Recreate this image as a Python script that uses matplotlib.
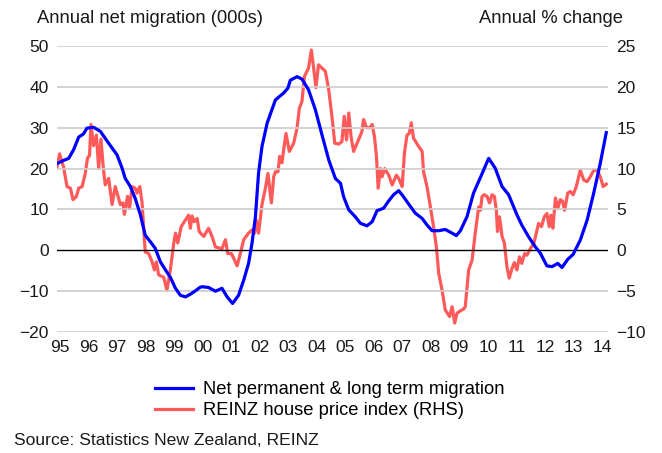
import matplotlib
matplotlib.use("Agg")
import matplotlib.pyplot as plt
import numpy as np

plt.rcParams['font.family'] = ['Liberation Sans', 'DejaVu Sans']

# net permanent & long term migration, annual, 000s (LHS)
mig_t = [1994.92, 1995.13, 1995.31, 1995.48, 1995.66, 1995.83, 1995.95, 1996.18, 1996.42, 1996.59,
         1996.77, 1997.00, 1997.18, 1997.29, 1997.47, 1997.64, 1997.82, 1997.99, 1998.17, 1998.34,
         1998.52, 1998.70, 1998.87, 1999.05, 1999.22, 1999.40, 1999.58, 1999.75, 1999.90, 1999.98,
         2000.21, 2000.45, 2000.68, 2000.86, 2001.05, 2001.26, 2001.44, 2001.61, 2001.73, 2001.85,
         2001.96, 2002.08, 2002.26, 2002.55, 2002.84, 2002.99, 2003.07, 2003.31, 2003.48, 2003.71,
         2003.95, 2004.18, 2004.42, 2004.65, 2004.83, 2004.94, 2005.12, 2005.35, 2005.53, 2005.76,
         2005.94, 2006.11, 2006.34, 2006.52, 2006.69, 2006.87, 2007.04, 2007.22, 2007.45, 2007.69,
         2007.86, 2008.04, 2008.27, 2008.50, 2008.74, 2008.89, 2009.03, 2009.26, 2009.49, 2009.73,
         2010.02, 2010.25, 2010.49, 2010.72, 2011.01, 2011.18, 2011.42, 2011.65, 2011.83, 2012.06,
         2012.24, 2012.44, 2012.59, 2012.79, 2012.98, 2013.23, 2013.47, 2013.70, 2013.93, 2014.14]
mig_v = [21.3, 22.0, 22.5, 24.6, 27.7, 28.5, 29.9, 30.1, 29.1, 27.4,
         25.6, 23.4, 20.1, 17.6, 15.6, 12.7, 8.7, 3.7, 2.1, 0.5,
         -2.8, -4.8, -6.6, -9.3, -11.0, -11.4, -10.7, -9.9, -9.1, -8.9,
         -9.1, -10.0, -9.3, -11.4, -13.0, -11.0, -7.3, -3.2, 1.7, 8.2,
         18.9, 25.4, 31.1, 36.8, 38.5, 39.7, 41.6, 42.5, 41.9, 39.3,
         34.4, 28.3, 22.1, 17.6, 16.4, 13.1, 9.9, 8.2, 6.6, 6.0,
         7.0, 9.7, 10.3, 12.1, 13.6, 14.6, 13.1, 11.3, 9.1, 7.8,
         6.2, 4.8, 4.8, 5.1, 4.2, 3.6, 4.8, 8.2, 14.0, 17.8,
         22.5, 20.1, 15.6, 13.6, 8.7, 6.2, 3.3, 0.9, -0.7, -3.8,
         -4.0, -3.2, -4.2, -2.2, -1.0, 2.5, 7.4, 14.0, 21.3, 28.8]

# REINZ house price index, annual % change (RHS)
hpi_t = [1994.90, 1994.99, 1995.13, 1995.25, 1995.37, 1995.46, 1995.58, 1995.66, 1995.78, 1995.89,
         1995.97, 1996.04, 1996.09, 1996.18, 1996.28, 1996.36, 1996.44, 1996.53, 1996.59, 1996.71,
         1996.83, 1996.94, 1997.12, 1997.21, 1997.26, 1997.37, 1997.44, 1997.53, 1997.64, 1997.70,
         1997.80, 1997.88, 1997.99, 1998.11, 1998.23, 1998.31, 1998.38, 1998.46, 1998.64, 1998.75,
         1998.87, 1998.99, 1999.05, 1999.13, 1999.25, 1999.40, 1999.51, 1999.57, 1999.63, 1999.71,
         1999.81, 1999.88, 2000.04, 2000.21, 2000.33, 2000.45, 2000.68, 2000.80, 2000.88, 2001.01,
         2001.12, 2001.21, 2001.32, 2001.44, 2001.61, 2001.73, 2001.82, 2001.88, 2001.96, 2002.08,
         2002.20, 2002.29, 2002.41, 2002.49, 2002.55, 2002.64, 2002.70, 2002.78, 2002.84, 2002.92,
         2003.04, 2003.19, 2003.31, 2003.39, 2003.48, 2003.57, 2003.71, 2003.81, 2003.89, 2003.97,
         2004.06, 2004.18, 2004.30, 2004.42, 2004.53, 2004.63, 2004.77, 2004.88, 2004.96, 2005.04,
         2005.12, 2005.20, 2005.29, 2005.41, 2005.53, 2005.58, 2005.64, 2005.74, 2005.85, 2005.94,
         2006.02, 2006.09, 2006.15, 2006.23, 2006.29, 2006.38, 2006.52, 2006.64, 2006.79, 2006.90,
         2006.99, 2007.07, 2007.16, 2007.24, 2007.31, 2007.39, 2007.57, 2007.69, 2007.74, 2007.86,
         2007.98, 2008.09, 2008.19, 2008.27, 2008.39, 2008.50, 2008.65, 2008.74, 2008.83, 2008.91,
         2009.03, 2009.14, 2009.20, 2009.32, 2009.44, 2009.55, 2009.67, 2009.73, 2009.79, 2009.87,
         2009.96, 2010.05, 2010.14, 2010.22, 2010.29, 2010.33, 2010.40, 2010.49, 2010.57, 2010.66,
         2010.74, 2010.84, 2010.92, 2011.01, 2011.10, 2011.18, 2011.28, 2011.36, 2011.48, 2011.60,
         2011.69, 2011.77, 2011.87, 2011.97, 2012.06, 2012.14, 2012.20, 2012.27, 2012.36, 2012.44,
         2012.53, 2012.61, 2012.68, 2012.79, 2012.88, 2012.98, 2013.09, 2013.23, 2013.35, 2013.47,
         2013.58, 2013.70, 2013.82, 2013.93, 2014.03, 2014.14]
hpi_v = [10.2, 11.8, 10.2, 7.8, 7.6, 6.2, 6.6, 7.6, 7.8, 9.4,
         11.3, 11.6, 15.4, 12.8, 14.1, 10.0, 13.6, 9.8, 8.0, 8.8,
         5.6, 7.8, 5.6, 5.8, 4.4, 6.6, 5.1, 7.8, 7.6, 7.0,
         7.8, 5.8, -0.2, -0.4, -1.4, -2.4, -1.4, -3.0, -3.3, -4.9,
         -2.4, 0.9, 2.1, 0.9, 2.9, 3.7, 4.3, 2.7, 4.2, 3.5,
         3.9, 2.3, 1.7, 2.7, 1.7, 0.4, 0.2, 1.3, -0.4, -0.4,
         -1.2, -1.9, -0.4, 1.3, 2.1, 2.5, 2.1, 3.7, 2.1, 5.6,
         7.6, 9.4, 5.8, 9.0, 9.6, 9.6, 11.5, 10.7, 12.3, 14.3,
         12.1, 13.1, 15.0, 17.4, 18.2, 21.3, 22.3, 24.5, 22.3, 19.9,
         22.7, 22.3, 21.9, 19.6, 16.4, 13.1, 13.0, 13.3, 16.4, 13.5,
         16.8, 13.9, 12.1, 13.1, 14.1, 14.5, 16.0, 15.0, 15.0, 15.4,
         13.9, 11.5, 7.6, 10.0, 9.0, 10.0, 9.2, 8.0, 9.2, 8.6,
         7.8, 11.9, 14.1, 14.3, 15.6, 13.7, 12.7, 12.1, 9.6, 7.8,
         5.3, 2.9, 0.4, -2.8, -4.9, -7.3, -8.1, -6.9, -8.9, -7.7,
         -7.4, -7.2, -6.9, -2.4, -1.2, 2.1, 5.3, 4.9, 6.6, 6.8,
         6.6, 5.8, 6.8, 6.6, 4.9, 2.3, 4.1, 1.7, 0.9, -2.0,
         -3.4, -2.2, -1.5, -2.4, -0.8, -1.6, -0.4, -0.6, 0.2, 0.8,
         2.1, 3.3, 2.9, 4.1, 4.5, 2.9, 4.3, 2.7, 6.4, 5.1,
         6.2, 6.0, 4.9, 7.0, 7.2, 6.8, 7.8, 9.8, 8.6, 8.4,
         9.0, 9.8, 9.8, 9.0, 7.8, 8.1]

years = list(range(1995, 2015))
year_labels = ['%02d' % (y % 100) for y in years]
left_ticks = [-20, -10, 0, 10, 20, 30, 40, 50]
right_ticks = [-10, -5, 0, 5, 10, 15, 20, 25]

fig = plt.figure(figsize=(6.62, 4.53), dpi=100)
ax = fig.add_axes([0.0861, 0.267, 0.8323, 0.6315])
ax2 = ax.twinx()

blue = '#0000ff'
red = '#ff5a5a'

ax.set_ylim(-20, 50)
ax2.set_ylim(-10, 25)
ax.set_xlim(1994.9, 2014.2)

for y in left_ticks:
    if y == 0:
        ax.axhline(y, color='black', lw=1.0, zorder=1)
    else:
        ax.axhline(y, color='#cccccc', lw=1.2, zorder=0)

ax2.plot(hpi_t, hpi_v, color=red, lw=2.3, zorder=2, solid_joinstyle='round')
ax.plot(mig_t, mig_v, color=blue, lw=2.3, zorder=3, solid_joinstyle='round')
ax.set_zorder(ax2.get_zorder() + 1)
ax.patch.set_visible(False)

for a in (ax, ax2):
    for s in a.spines.values():
        s.set_visible(False)
    a.tick_params(length=0, labelsize=12.5, colors='#1a1a1a')

ax.set_yticks(left_ticks)
ax2.set_yticks(right_ticks)
ax.set_xticks(years)
ax.set_xticklabels(year_labels)
ax.tick_params(axis='y', pad=6)
ax2.tick_params(axis='y', pad=6)
ax.tick_params(axis='x', pad=6)

fig.text(0.056, 0.96, 'Annual net migration (000s)', fontsize=13.2, ha='left', va='center', color='#1a1a1a')
fig.text(0.941, 0.96, 'Annual % change', fontsize=13.2, ha='right', va='center', color='#1a1a1a')

h1, = ax.plot([], [], color=blue, lw=2.3)
h2, = ax.plot([], [], color=red, lw=2.3)
fig.legend([h1, h2], ['Net permanent & long term migration', 'REINZ house price index (RHS)'],
           loc='upper left', bbox_to_anchor=(0.234, 0.158),
           frameon=False, fontsize=13.2, handlelength=2.07, handletextpad=0.55,
           labelspacing=0.2, borderaxespad=0, borderpad=0)

fig.text(0.021, 0.027, 'Source: Statistics New Zealand, REINZ', fontsize=12.6, ha='left', va='center',
         color='#1a1a1a')

fig.savefig('out.png', dpi=100)
